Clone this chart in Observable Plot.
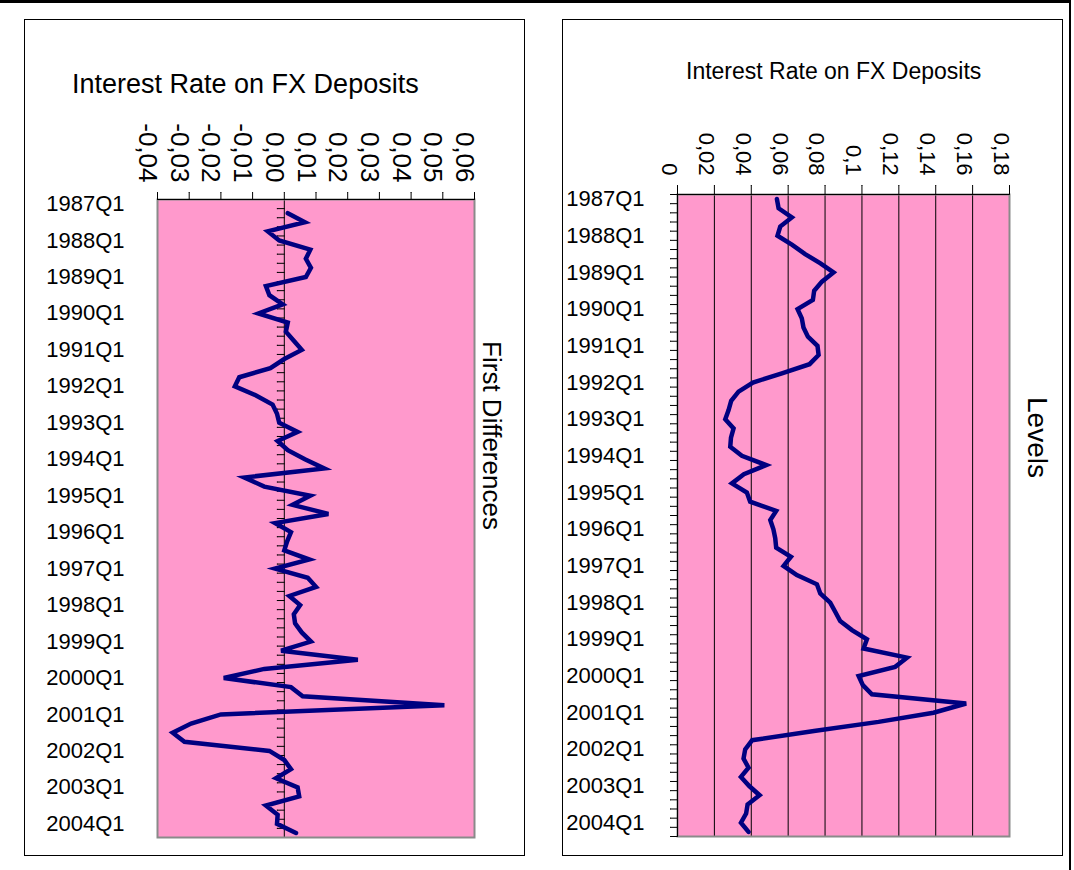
<!DOCTYPE html>
<html>
<head>
<meta charset="utf-8">
<script src="https://cdn.jsdelivr.net/npm/d3@7"></script>
<script src="https://cdn.jsdelivr.net/npm/@observablehq/plot@0.6"></script>
<style>
  html, body { margin: 0; padding: 0; background: #fff; }
  body { width: 1074px; height: 870px; position: relative; overflow: hidden;
         font-family: "Liberation Sans", Arial, sans-serif; }
  #page { position: absolute; left: 0; top: 0; width: 1069px; height: 867px;
          border-top: 3px solid #000; border-right: 2px solid #000; }
  .panel { position: absolute; top: 20px; width: 499px; height: 835px;
           outline: 1px solid #000; background: #fff; }
  .panel svg { position: absolute; left: 0; top: 0; }
  .title { position: absolute; white-space: nowrap; line-height: 1; color: #000; z-index: 2; }
</style>
</head>
<body>
<div id="page"></div>
<div class="panel" id="left" style="left:25px">
  <div class="title" style="left:47px;top:51px;font-size:27px">Interest Rate on FX Deposits</div>
</div>
<div class="panel" id="right" style="left:563px">
  <div class="title" style="left:123px;top:40px;font-size:23px">Interest Rate on FX Deposits</div>
</div>
<script>
// Quarterly categories, 1987Q1 .. 2004Q2
const quarters = [];
for (let y = 1987; y <= 2004; y++) for (let q = 1; q <= 4; q++) quarters.push(`${y}Q${q}`);
quarters.length = 70;

// Category labels shown on the vertical axis (every first quarter)
const labelQuarters = ["1987Q1","1988Q1","1989Q1","1990Q1","1991Q1","1992Q1","1993Q1","1994Q1",
  "1995Q1","1996Q1","1997Q1","1998Q1","1999Q1","2000Q1","2001Q1","2002Q1","2003Q1","2004Q1"];

// Interest rate on FX deposits, levels (1987Q1 .. 2004Q2)
const levels = [
  0.0539, 0.0548, 0.0620, 0.0557, 0.0542, 0.0622, 0.0692, 0.0775, 0.0846, 0.0783,
  0.0741, 0.0734, 0.0651, 0.0674, 0.0683, 0.0707, 0.0759, 0.0765, 0.0716, 0.0566,
  0.0409, 0.0331, 0.0291, 0.0277, 0.0259, 0.0304, 0.0290, 0.0286, 0.0349, 0.0481,
  0.0360, 0.0295, 0.0376, 0.0394, 0.0535, 0.0503, 0.0520, 0.0530, 0.0535, 0.0615,
  0.0575, 0.0647, 0.0756, 0.0774, 0.0828, 0.0855, 0.0882, 0.0946, 0.1027, 0.1009,
  0.1244, 0.1180, 0.0982, 0.1005, 0.1054, 0.1565, 0.1388, 0.1090, 0.0740, 0.0405,
  0.0367, 0.0358, 0.0385, 0.0344, 0.0389, 0.0445, 0.0380, 0.0372, 0.0344, 0.0385
];

// First differences (1987Q2 .. 2004Q2)
const firstDiffs = [
           0.0011, 0.0065, -0.0052, -0.0016, 0.0082, 0.0068, 0.0084, 0.0068, -0.0058,
  -0.0047, -0.0005, -0.0082, 0.0011, 0.0005, 0.0030, 0.0055, 0.0000, -0.0044, -0.0142,
  -0.0156, -0.0089, -0.0037, -0.0023, -0.0016, 0.0042, -0.0021, 0.0011, 0.0065, 0.0126,
  -0.0126, -0.0063, 0.0082, 0.0026, 0.0139, -0.0029, 0.0021, 0.0009, 0.0000, 0.0079,
  -0.0029, 0.0074, 0.0100, 0.0016, 0.0050, 0.0030, 0.0034, 0.0055, 0.0084, -0.0010,
  0.0232, -0.0063, -0.0191, 0.0021, 0.0058, 0.0505, -0.0200, -0.0294, -0.0352, -0.0315,
  -0.0047, 0.0000, 0.0021, -0.0026, 0.0042, 0.0047, -0.0058, -0.0021, -0.0023, 0.0037
];

// Value-axis ticks
const diffTicks = [-0.04, -0.03, -0.02, -0.01, 0, 0.01, 0.02, 0.03, 0.04, 0.05, 0.06];
const levelTicks = [0, 0.02, 0.04, 0.06, 0.08, 0.1, 0.12, 0.14, 0.16, 0.18];

const qIndex = new Map(quarters.map((q, i) => [q, i]));
const levelRows = levels.map((v, i) => ({q: quarters[i], v}));
const diffRows = firstDiffs.map((v, i) => ({q: quarters[i + 1], v}));
// category boundaries (tick marks sit between quarters)
const bounds = quarters.map((q, i) => i - 0.5).concat([quarters.length - 0.5]);

const PINK = "#ff99cc", EDGE = "#8a8a8a", NAVY = "#000080";
const font = "Liberation Sans, Arial, sans-serif";
const commaFmt = (d, digits) => (digits == null ? String(d) : d.toFixed(digits)).replace(".", ",");

// Left panel: first differences
const left = Plot.plot({
  width: 499, height: 835,
  marginLeft: 132, marginRight: 50, marginTop: 179, marginBottom: 18,
  style: {fontFamily: font, background: "transparent", overflow: "visible"},
  x: {domain: [-0.04, 0.06], axis: null},
  y: {domain: [-0.5, quarters.length - 0.5], reverse: true, axis: null},
  marks: [
    Plot.frame({fill: PINK, stroke: null}),
    Plot.ruleX([0], {stroke: "#000", strokeWidth: 1}),
    Plot.vector(bounds, {x: () => 0, y: d => d, length: 7, rotate: -90, anchor: "start", r: 0, stroke: "#000", strokeWidth: 1}),
    Plot.line(diffRows, {x: "v", y: d => qIndex.get(d.q), stroke: NAVY, strokeWidth: 4.5, strokeLinejoin: "miter", strokeMiterlimit: 4}),
    Plot.frame({stroke: EDGE, strokeWidth: 2}),
    Plot.ruleY([-0.5], {stroke: "#000", strokeWidth: 1}),
    Plot.vector(diffTicks, {x: d => d, frameAnchor: "top", length: 7, rotate: 0, anchor: "start", r: 0, stroke: "#000", strokeWidth: 1}),
    Plot.text(diffTicks, {x: d => d, frameAnchor: "top", dy: -17, rotate: 90, textAnchor: "end",
      text: d => commaFmt(d, 2), fontSize: 26, fill: "#000"}),
    Plot.text(labelQuarters, {frameAnchor: "left", y: q => qIndex.get(q), dx: -33, textAnchor: "end",
      text: d => d, fontSize: 22, fill: "#000"}),
    Plot.text(["First Differences"], {frameAnchor: "right", dx: 17, dy: -83, rotate: 90, textAnchor: "middle",
      text: d => d, fontSize: 26, fill: "#000"})
  ]
});
document.getElementById("left").appendChild(left);

// Right panel: levels
const right = Plot.plot({
  width: 499, height: 835,
  marginLeft: 114, marginRight: 53, marginTop: 174, marginBottom: 19,
  style: {fontFamily: font, background: "transparent", overflow: "visible"},
  x: {domain: [0, 0.18], axis: null},
  y: {domain: [-0.5, quarters.length - 0.5], reverse: true, axis: null},
  marks: [
    Plot.frame({fill: PINK, stroke: null}),
    Plot.ruleX(levelTicks, {stroke: "#000", strokeWidth: 1}),
    Plot.line(levelRows, {x: "v", y: d => qIndex.get(d.q), stroke: NAVY, strokeWidth: 4.5, strokeLinejoin: "miter", strokeMiterlimit: 4}),
    Plot.frame({stroke: EDGE, strokeWidth: 2}),
    Plot.ruleY([-0.5], {stroke: "#000", strokeWidth: 1}),
    Plot.ruleX([0], {stroke: "#000", strokeWidth: 1}),
    Plot.vector(levelTicks, {x: d => d, frameAnchor: "top", length: 9, rotate: 0, anchor: "start", r: 0, stroke: "#000", strokeWidth: 1}),
    Plot.vector(bounds, {frameAnchor: "left", y: d => d, length: 7, rotate: -90, anchor: "start", r: 0, stroke: "#000", strokeWidth: 1}),
    Plot.text(levelTicks, {x: d => d, frameAnchor: "top", dy: -19, rotate: 90, textAnchor: "end",
      text: d => commaFmt(d), fontSize: 22, fill: "#000"}),
    Plot.text(labelQuarters, {frameAnchor: "left", y: q => qIndex.get(q), dx: -33, textAnchor: "end",
      text: d => d, fontSize: 22, fill: "#000"}),
    Plot.text(["Levels"], {frameAnchor: "right", dx: 27, dy: -78, rotate: 90, textAnchor: "middle",
      text: d => d, fontSize: 28, fill: "#000"})
  ]
});
document.getElementById("right").appendChild(right);
</script>
</body>
</html>
